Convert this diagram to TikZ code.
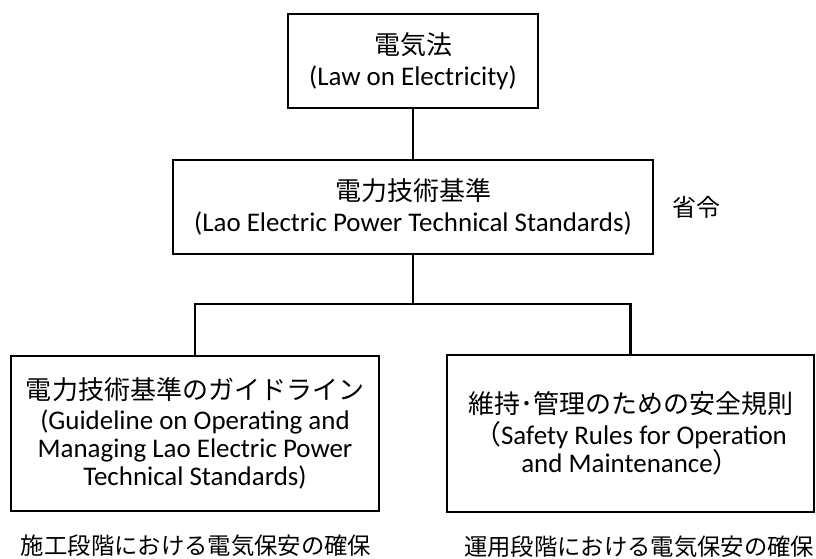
\documentclass[tikz,border=0pt]{standalone}
\usepackage{fontspec}
\setmainfont{Carlito}
\newfontfamily\jpfont{Noto Sans CJK JP}
\newcommand{\jptext}[1]{{\jpfont\fontsize{19.5}{22}\selectfont #1}}
\tikzset{
  box/.style={draw, line width=2.2pt, inner sep=0pt, align=center,
    font=\fontsize{20.2}{21}\selectfont},
  link/.style={line width=2.2pt},
  note/.style={inner sep=0pt, font=\jpfont\fontsize{17.5}{20}\selectfont}
}
\begin{document}
\begin{tikzpicture}[x=0.75pt, y=-0.75pt]
  \useasboundingbox (0,0) rectangle (816,559);

  % Law box
  \node [box, minimum width=187.5pt, minimum height=70.5pt] (law) at (413,61)
    {\jptext{電気法}\\[2pt] (Law on Electricity)};

  % Technical standards box
  \node [box, minimum width=360pt, minimum height=70.5pt] (tech) at (413,207)
    {\jptext{電力技術基準}\\[2pt] (Lao Electric Power Technical Standards)};
  \node [note, font=\jpfont\fontsize{18}{20}\selectfont] (order) at (696,207) {省令};

  % Guideline box
  \node [box, minimum width=276pt, minimum height=116.25pt] (guide) at (195,433.5)
    {\jptext{電力技術基準のガイドライン}\\[2pt]
     (Guideline on Operating and\\
     Managing Lao Electric Power\\
     Technical Standards)};

  % Safety rules box
  \node [box, minimum width=275.25pt, minimum height=117.75pt] (rules) at (630.5,433.5)
    {\jptext{維持･管理のための安全規則}\\[2pt]
     {\jpfont （}Safety Rules for Operation\\
     and Maintenance{\jpfont ）}};

  % Notes under the boxes
  \node [note] (build) at (196,546) {施工段階における電気保安の確保};
  \node [note] (run) at (639,547) {運用段階における電気保安の確保};

  % Connectors
  \coordinate (bus) at (413,304);
  \draw [link] (law) -- (tech);
  \draw [link] (tech) -- (bus);
  \draw [link] (guide.north) |- (bus) -| (rules.north);
\end{tikzpicture}
\end{document}
